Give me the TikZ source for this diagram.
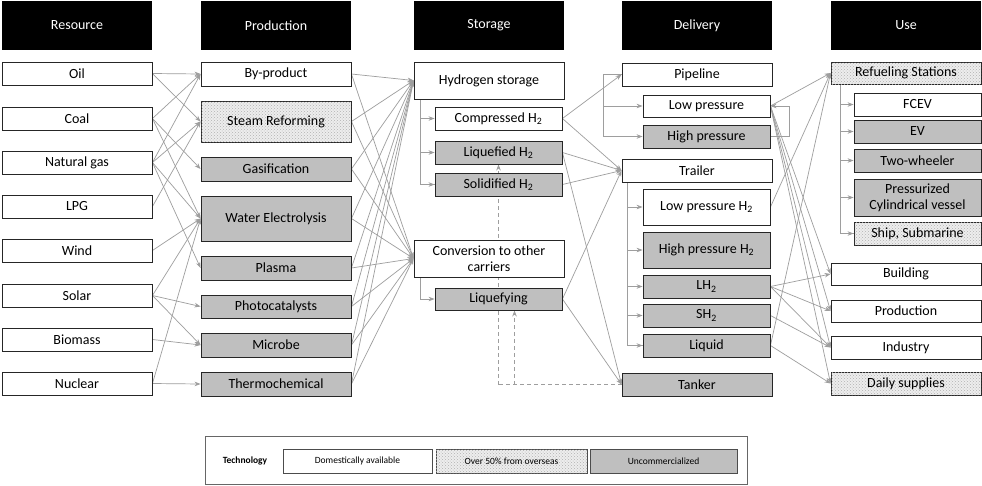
\documentclass[tikz,border=0pt]{standalone}
\usepackage{fontspec}
\setmainfont{Carlito}
\usetikzlibrary{arrows.meta,patterns,backgrounds,calc}
\newcommand\mkbox[7]{\node[#1, minimum width={(#5-#3)*1pt}, minimum height={(#6-#4)*1pt}] (#2) at ({(#3+#5)/2},{(#4+#6)/2}) {#7};}
\tikzset{
  bx/.style={draw=black!85, line width=0.9pt, inner sep=1pt, align=center, font=\fontsize{14}{16}\selectfont},
  dom/.style={bx, fill=white},
  ovs/.style={bx, fill=black!7, postaction={pattern=crosshatch dots, pattern color=black!30}},
  unc/.style={bx, fill=black!25},
  hdr/.style={fill=black, text=white, inner sep=0pt, font=\fontsize{14}{16}\selectfont},
  conn/.style={draw=black!38, line width=0.7pt, -{Stealth[length=6pt,width=4.5pt]}},
  brk/.style={draw=black!38, line width=0.7pt},
  dsh/.style={draw=black!38, line width=0.7pt, dashed, dash pattern=on 4pt off 3pt},
  lg/.style={draw=black!70, line width=0.6pt, inner sep=1pt, font=\fontsize{9.5}{11}\selectfont},
}
\begin{document}
\begin{tikzpicture}[x=1pt,y=-1pt]
\useasboundingbox (0,0) rectangle (982,485);
% headers
\mkbox{hdr}{hR}{2}{1}{152}{50}{Resource}
\mkbox{hdr}{hP}{201}{1}{351}{50}{Production}
\mkbox{hdr}{hS}{414}{1}{564}{50}{Storage}
\mkbox{hdr}{hD}{622}{1}{772}{50}{Delivery}
\mkbox{hdr}{hU}{831}{1}{981}{50}{Use}
% resource
\mkbox{dom}{oil}{2}{62}{152}{85}{Oil}
\mkbox{dom}{coal}{2}{107}{152}{130}{Coal}
\mkbox{dom}{ng}{2}{151}{152}{174}{Natural gas}
\mkbox{dom}{lpg}{2}{195}{152}{218}{LPG}
\mkbox{dom}{wind}{2}{239}{152}{262}{Wind}
\mkbox{dom}{solar}{2}{284}{152}{307}{Solar}
\mkbox{dom}{bio}{2}{328}{152}{351}{Biomass}
\mkbox{dom}{nuc}{2}{372}{152}{395}{Nuclear}
% production
\mkbox{dom}{byp}{201}{62}{351}{86}{By-product}
\mkbox{ovs}{sr}{201}{101}{351}{142}{Steam Reforming}
\mkbox{unc}{gas}{201}{157}{351}{181}{Gasification}
\mkbox{unc}{we}{201}{196}{351}{241}{Water Electrolysis}
\mkbox{unc}{pla}{201}{256}{351}{280}{Plasma}
\mkbox{unc}{pho}{201}{295}{351}{318}{Photocatalysts}
\mkbox{unc}{mic}{201}{333}{351}{357}{Microbe}
\mkbox{unc}{the}{201}{372}{351}{396}{Thermochemical}
% storage
\mkbox{dom}{hs}{414}{62}{564}{99}{Hydrogen storage}
\mkbox{dom}{comp}{435}{107}{562}{130}{Compressed H\textsubscript{2}}
\mkbox{unc}{liq}{435}{141}{562}{164}{Liquefied H\textsubscript{2}}
\mkbox{unc}{sol}{435}{173}{562}{196}{Solidified H\textsubscript{2}}
\mkbox{dom}{conv}{414}{240}{564}{277}{Conversion to other\\carriers}
\mkbox{unc}{lqf}{435}{288}{562}{310}{Liquefying}
% delivery
\mkbox{dom}{pipe}{622}{63}{772}{86}{Pipeline}
\mkbox{dom}{lp}{643}{95}{770}{117}{Low pressure}
\mkbox{unc}{hp}{643}{125}{770}{148}{High pressure}
\mkbox{dom}{trl}{622}{159}{772}{182}{Trailer}
\mkbox{dom}{lph}{643}{189}{770}{225}{Low pressure H\textsubscript{2}}
\mkbox{unc}{hph}{643}{232}{770}{268}{High pressure H\textsubscript{2}}
\mkbox{unc}{lh}{643}{275}{770}{298}{LH\textsubscript{2}}
\mkbox{unc}{sh}{643}{304}{770}{327}{SH\textsubscript{2}}
\mkbox{unc}{liqd}{643}{334}{770}{357}{Liquid}
\mkbox{unc}{tank}{622}{373}{772}{396}{Tanker}
% use
\mkbox{ovs}{ref}{831}{62}{981}{84}{Refueling Stations}
\mkbox{dom}{fcev}{854}{93}{981}{116}{FCEV}
\mkbox{unc}{ev}{854}{120}{981}{143}{EV}
\mkbox{unc}{two}{854}{149}{981}{172}{Two-wheeler}
\mkbox{unc}{pcv}{854}{179}{981}{216}{Pressurized\\Cylindrical vessel}
\mkbox{ovs}{ship}{854}{222}{981}{245}{Ship, Submarine}
\mkbox{dom}{bld}{831}{263}{981}{285}{Building}
\mkbox{dom}{prod}{831}{300}{981}{322}{Production}
\mkbox{dom}{ind}{831}{336}{981}{359}{Industry}
\mkbox{ovs}{daily}{831}{372}{981}{395}{Daily supplies}
% legend
\node[draw=black!60, line width=0.6pt, minimum width=542pt, minimum height=48pt] (leg) at (476,460.5) {};
\node[font=\fontsize{9.5}{11}\selectfont\bfseries] (tech) at (245,461) {Technology};
\mkbox{lg,fill=white}{l1}{283}{449}{432}{473}{Domestically available}
\mkbox{lg,fill=black!7,postaction={pattern=crosshatch dots, pattern color=black!30}}{l2}{436}{449}{587}{473}{Over 50\% from overseas}
\mkbox{lg,fill=black!25}{l3}{590}{449}{737}{473}{Uncommercialized}
\begin{pgfonlayer}{background}
\fill[white] (0,0) rectangle (982,485);
% resource -> production
\foreach \a/\b in {oil/byp,oil/sr,coal/byp,coal/gas,coal/we,ng/byp,ng/sr,ng/we,ng/pla,lpg/sr,wind/we,solar/we,solar/pho,solar/mic,bio/mic,nuc/we,nuc/the}
  \draw[conn] (\a.east) -- (\b.west);
% production -> storage
\foreach \a in {byp,sr,gas,we,pla,pho,mic,the}{
  \draw[conn] (\a.east) -- (hs.west);
  \draw[conn] (\a.east) -- (conv.west);}
% storage brackets
\coordinate (hsb) at ($(hs.south west)+(7,0)$);
\draw[brk] (hsb) |- (sol.west);
\foreach \b in {comp,liq,sol} \draw[conn] (hsb |- \b.west) -- (\b.west);
\coordinate (cvb) at ($(conv.south west)+(7,0)$);
\draw[conn] (cvb) |- (lqf.west);
% storage -> delivery
\foreach \a/\b in {comp/pipe,comp/trl,liq/trl,liq/tank,sol/trl,lqf/trl,lqf/tank}
  \draw[conn] (\a.east) -- (\b.west);
% dashed returns
\coordinate (dA) at (liq.south |- tank.west);
\coordinate (dB) at ($(lqf.south)+(16,0)$);
\draw[dsh] (tank.west) -- (dA);
\draw[dsh,-{Stealth[length=6pt,width=4.5pt]}] (dA) -- (liq.south);
\draw[dsh,-{Stealth[length=6pt,width=4.5pt]}] (dB |- tank.west) -- (dB);
% pipeline bracket
\coordinate (pb) at ($(pipe.west)+(-18,0)$);
\draw[brk] (pipe.west) -- (pb) -- (pb |- hp.west);
\foreach \b in {lp,hp} \draw[conn] (pb |- \b.west) -- (\b.west);
\coordinate (hl) at ($(hp.east)+(19,0)$);
\draw[conn] (hp.east) -- (hl) |- (lp.east);
% trailer bracket
\coordinate (tb) at ($(trl.south west)+(6,0)$);
\draw[brk] (tb) |- (liqd.west);
\foreach \b in {lph,hph,lh,sh,liqd} \draw[conn] (tb |- \b.west) -- (\b.west);
% refueling bracket
\coordinate (rb) at ($(ref.south west)+(10,0)$);
\draw[brk] (rb) |- (ship.west);
\foreach \b in {fcev,ev,two,pcv,ship} \draw[conn] (rb |- \b.west) -- (\b.west);
% delivery -> use
\foreach \a/\b in {lp/ref,lp/bld,lp/prod,lp/ind,lp/daily,lph/ref,lh/bld,lh/prod,lh/ind,sh/ind,liqd/ref,liqd/daily}
  \draw[conn] (\a.east) -- (\b.west);
\end{pgfonlayer}
\end{tikzpicture}
\end{document}
